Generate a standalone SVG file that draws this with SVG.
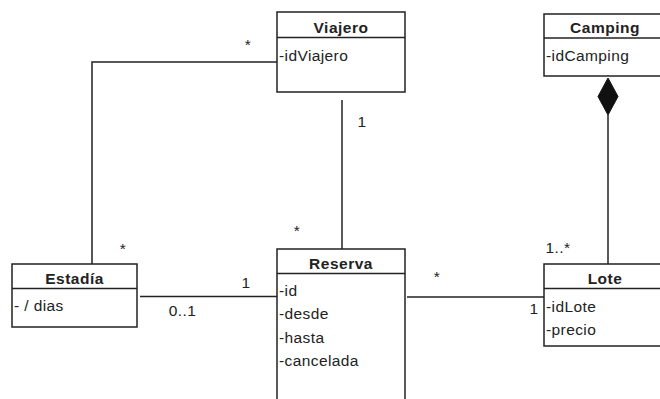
<svg xmlns="http://www.w3.org/2000/svg" width="660" height="399" viewBox="0 0 660 399">
<style>
.box{fill:#fff;stroke:#222;stroke-width:1.5}
.ln{fill:none;stroke:#222;stroke-width:1.5}
text{font-family:"Liberation Sans",Arial,sans-serif;font-size:15.5px;letter-spacing:0.4px;fill:#222}
.t{font-weight:bold;text-anchor:middle;letter-spacing:0.5px}
.m{text-anchor:middle}
</style>
<rect width="660" height="399" fill="#fff"/>
<g id="connectors">
<polyline class="ln" points="277,62 92,62 92,264"/>
<line class="ln" x1="342" y1="100" x2="342" y2="249"/>
<line class="ln" x1="140" y1="296.5" x2="277" y2="296.5"/>
<line class="ln" x1="407" y1="297" x2="544" y2="297"/>
<line class="ln" x1="608" y1="115" x2="608" y2="264"/>
<polygon points="608,78 618,96.5 608,115 598,96.5" fill="#111" stroke="#111" stroke-width="1"/>
<text class="m" x="248" y="50">*</text>
<text class="m" x="123" y="254">*</text>
<text class="m" x="362" y="126.5">1</text>
<text class="m" x="297" y="236">*</text>
<text class="m" x="246" y="287.5">1</text>
<text class="m" x="182.5" y="315.5">0..1</text>
<text class="m" x="437" y="282">*</text>
<text class="m" x="558" y="252.5">1..*</text>
<text class="m" x="534" y="313.5">1</text>
</g>
<g id="viajero">
<rect class="box" x="277" y="12" width="128" height="80"/>
<line class="ln" x1="277" y1="37.5" x2="405" y2="37.5"/>
<text class="t" x="341" y="33">Viajero</text>
<text x="279" y="60.5">-idViajero</text>
</g>
<g id="camping">
<rect class="box" x="544" y="14" width="122" height="62"/>
<line class="ln" x1="544" y1="38" x2="666" y2="38"/>
<text class="t" x="605" y="33">Camping</text>
<text x="546" y="60.5">-idCamping</text>
</g>
<g id="estadia">
<rect class="box" x="12" y="264" width="125" height="63"/>
<line class="ln" x1="12" y1="288.5" x2="137" y2="288.5"/>
<text class="t" x="74.5" y="283.5">Estadía</text>
<text x="14" y="310.5">- / dias</text>
</g>
<g id="reserva">
<rect class="box" x="277" y="249" width="128" height="160"/>
<line class="ln" x1="277" y1="273.5" x2="405" y2="273.5"/>
<text class="t" x="341" y="268.5">Reserva</text>
<text x="279" y="295.5">-id</text>
<text x="279" y="319">-desde</text>
<text x="279" y="342.5">-hasta</text>
<text x="279" y="366">-cancelada</text>
</g>
<g id="lote">
<rect class="box" x="544" y="264" width="122" height="82"/>
<line class="ln" x1="544" y1="288.5" x2="666" y2="288.5"/>
<text class="t" x="605" y="283.5">Lote</text>
<text x="546" y="311.5">-idLote</text>
<text x="546" y="334.5">-precio</text>
</g>
</svg>
